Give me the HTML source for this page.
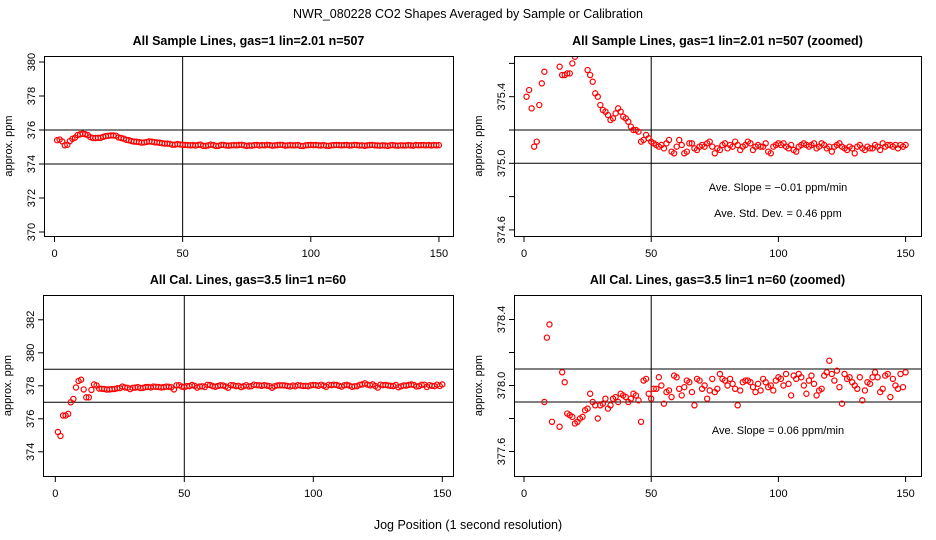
<!DOCTYPE html>
<html><head><meta charset="utf-8"><style>
html,body{margin:0;background:#fff;overflow:hidden;width:936px;height:540px}
svg{display:block;font-family:"Liberation Sans",sans-serif}
</style></head><body>
<svg id="c" width="936" height="540" viewBox="0 0 936 540">
<text x="468" y="18" font-size="12.5" text-anchor="middle">NWR_080228  CO2 Shapes Averaged by Sample or Calibration</text>
<text x="468" y="529" font-size="12.5" text-anchor="middle">Jog Position (1 second resolution)</text>
</svg>
<script>
const sampleX = Array.from({length:150},(_, i)=>i+1);
const sampleY = [375.40,375.44,375.33,375.10,375.13,375.35,375.48,375.55,375.70,375.75,375.78,375.75,375.70,375.58,375.53,375.53,375.54,375.54,375.60,375.64,375.66,375.68,375.68,375.66,375.56,375.53,375.49,375.42,375.40,375.35,375.32,375.31,375.29,375.26,375.27,375.30,375.33,375.31,375.28,375.27,375.25,375.22,375.20,375.20,375.19,375.13,375.14,375.17,375.15,375.13,
375.12,375.11,375.10,375.11,375.09,375.12,375.14,375.07,375.06,375.10,375.14,375.11,375.06,375.07,375.12,375.12,375.09,375.08,375.10,375.11,375.10,375.12,375.13,375.10,375.06,375.09,375.08,375.11,375.12,375.09,375.11,375.10,375.13,375.11,375.08,375.10,375.11,375.13,375.12,375.08,375.10,375.11,375.10,375.10,375.12,375.07,375.06,375.10,375.11,375.12,
375.11,375.12,375.10,375.09,375.11,375.08,375.07,375.10,375.11,375.12,375.11,375.10,375.11,375.12,375.09,375.10,375.12,375.11,375.09,375.10,375.07,375.10,375.11,375.12,375.10,375.09,375.08,375.10,375.09,375.06,375.10,375.11,375.09,375.08,375.10,375.09,375.09,375.11,375.10,375.08,375.12,375.10,375.11,375.11,375.10,375.11,375.09,375.11,375.10,375.11];
const calY = [375.20,374.96,376.20,376.20,376.30,377.00,377.20,377.90,378.29,378.37,377.78,377.30,377.30,377.75,378.08,378.02,377.83,377.82,377.81,377.77,377.78,377.80,377.81,377.85,377.86,377.95,377.90,377.88,377.80,377.88,377.89,377.92,377.86,377.88,377.92,377.93,377.90,377.95,377.94,377.93,377.90,377.92,377.95,377.94,377.91,377.78,378.03,378.04,377.95,377.92,
377.98,377.98,378.05,378.00,377.89,377.96,377.97,377.93,378.06,378.05,377.98,377.94,377.99,378.03,378.02,377.96,377.88,378.04,378.03,377.98,378.00,377.92,377.97,378.04,377.96,377.98,378.07,378.04,378.03,378.00,378.04,378.01,377.98,377.88,377.97,378.02,378.03,378.03,378.02,377.99,377.96,378.01,377.97,378.04,378.02,377.99,378.00,377.97,378.03,378.05,
378.04,378.00,378.07,378.01,377.94,378.06,378.04,378.07,378.05,378.00,377.95,378.03,378.06,378.01,377.94,377.97,377.98,378.06,378.08,378.15,378.07,378.03,378.09,377.99,377.89,378.07,378.04,378.05,378.02,378.00,377.98,378.05,377.91,377.97,378.02,378.01,378.05,378.08,378.05,377.96,377.98,378.06,378.07,377.93,378.04,378.00,377.98,378.07,377.99,378.08];
const panelTitles = ["All Sample Lines, gas=1 lin=2.01 n=507","All Sample Lines, gas=1 lin=2.01 n=507 (zoomed)","All Cal. Lines, gas=3.5 lin=1 n=60","All Cal. Lines, gas=3.5 lin=1 n=60 (zoomed)"];
const xTicks = [0,50,100,150];
const ytTL=[370,372,374,376,378,380], ytTR=[374.6,374.8,375.0,375.2,375.4,375.6], ytBL=[374,376,378,380,382], ytBR=[377.6,377.8,378.0,378.2,378.4];
const hLinesTop=[374,376], hLinesTopZ=[375.0,375.2], hLinesCal=[377,379], hLinesCalZ=[377.9,378.1];

const NS="http://www.w3.org/2000/svg", svg=document.getElementById('c');
function mk(t,a,p){const e=document.createElementNS(NS,t);for(const k in a)e.setAttribute(k,a[k]);(p||svg).appendChild(e);return e;}

const panels=[
 {bx0:44,bx1:453,by0:56,by1:236,x0:54.5,xs:2.563,yr:376,ypx:130,yk:17,yt:ytTL,lab:v=>true,fmt:v=>String(v),ys:sampleY,hl:hLinesTop,title:panelTitles[0],ann:[]},
 {bx0:514,bx1:921,by0:56,by1:236,x0:524,xs:2.544,yr:375.0,ypx:163.3,yk:166.5,yt:ytTR,lab:(v,i)=>i%2==0,fmt:v=>v.toFixed(1),ys:sampleY,hl:hLinesTopZ,title:panelTitles[1],ann:["Ave. Slope =  \u22120.01  ppm/min","Ave. Std. Dev. =  0.46  ppm"]},
 {bx0:43,bx1:453,by0:295,by1:476,x0:55.3,xs:2.58,yr:379,ypx:369.3,yk:16.5,yt:ytBL,lab:v=>true,fmt:v=>String(v),ys:calY,hl:hLinesCal,title:panelTitles[2],ann:[]},
 {bx0:514,bx1:921,by0:295,by1:476,x0:524,xs:2.544,yr:378.0,ypx:385.5,yk:165,yt:ytBR,lab:(v,i)=>i%2==0,fmt:v=>v.toFixed(1),ys:calY,hl:hLinesCalZ,title:panelTitles[3],ann:["Ave. Slope =  0.06  ppm/min"]}
];
panels.forEach((p,pi)=>{
 const g=mk('g',{});
 
 
 const X=v=>p.x0+v*p.xs, Y=v=>p.ypx-(v-p.yr)*p.yk;
 const t=mk('text',{x:(p.bx0+p.bx1)/2,y:p.by0-11,'font-size':12.5,'font-weight':'bold','text-anchor':'middle'},g);t.textContent=p.title;
 
 
 const cid='clip'+pi;
 const cp=mk('clipPath',{id:cid},g);mk('rect',{x:p.bx0,y:p.by0,width:p.bx1-p.bx0,height:p.by1-p.by0},cp);
 const pts=mk('g',{'clip-path':`url(#${cid})`},g);
 
 
 p.hl.forEach(h=>{const l=mk('line',{x1:p.bx0,x2:p.bx1,y1:Y(h),y2:Y(h),stroke:'#000','stroke-width':1},pts);
  
  });
 const vl=mk('line',{x1:X(50),x2:X(50),y1:p.by0,y2:p.by1,stroke:'#000','stroke-width':1},pts);
 
 
 p.ys.forEach((v,i)=>{const cy=Y(v);if(cy<p.by0-3||cy>p.by1+3)return;
  const c=mk('circle',{cx:X(sampleX[i]),cy:cy,r:2.6,fill:'none',stroke:'#f00','stroke-width':1.2},pts);
  
  });
 const b=mk('rect',{x:p.bx0+.5,y:p.by0+.5,width:p.bx1-p.bx0,height:p.by1-p.by0,fill:'none',stroke:'#000','stroke-width':1},g);
 
 
 xTicks.forEach(v=>{mk('line',{x1:X(v),x2:X(v),y1:p.by1,y2:p.by1+6,stroke:'#000'},g);
  const tx=mk('text',{x:X(v),y:p.by1+21,'font-size':11,'text-anchor':'middle'},g);tx.textContent=v;
  
  });
 p.yt.forEach((v,i)=>{const yy=Y(v);mk('line',{x1:p.bx0-5,x2:p.bx0,y1:yy,y2:yy,stroke:'#000'},g);
  if(p.lab(v,i)){const ty=mk('text',{x:p.bx0-9,y:yy,'font-size':11,'text-anchor':'middle',transform:`rotate(-90 ${p.bx0-9} ${yy})`},g);ty.textContent=p.fmt(v);
  
  }});
 const yl=mk('text',{x:p.bx0-32,y:(p.by0+p.by1)/2,'font-size':11,'text-anchor':'middle',transform:`rotate(-90 ${p.bx0-32} ${(p.by0+p.by1)/2})`},g);yl.textContent='approx. ppm';
 
 
 p.ann.forEach((a,k)=>{const at=mk('text',{x:778,y:(pi==1?191+k*26:434),'font-size':11,'text-anchor':'middle'},g);at.textContent=a;
  
  });
});
</script>
</body></html>
